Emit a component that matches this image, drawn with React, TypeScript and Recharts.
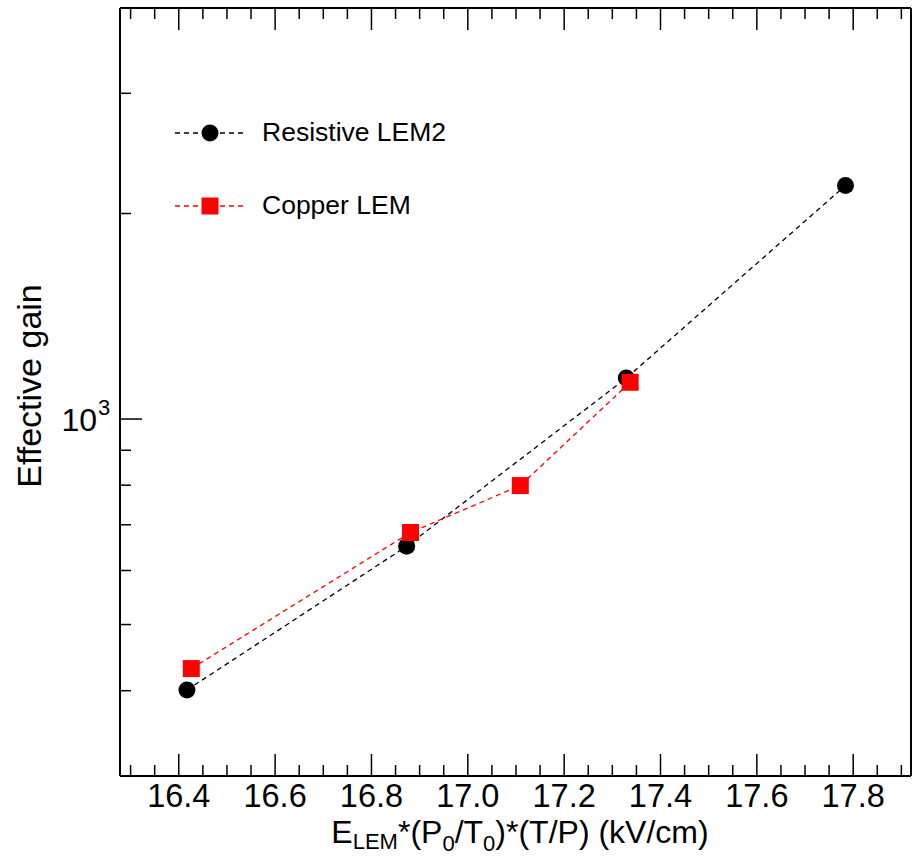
import { ComposedChart, Line, XAxis, YAxis, Legend } from 'recharts';

// Measured points (field in kV/cm, effective gain)
const resistiveField = [16.417, 16.873, 17.329, 17.784];
const resistiveGain = [401, 651, 1148, 2198];
const copperField = [16.426, 16.881, 17.109, 17.337];
const copperGain = [431, 682, 799, 1132];

const xTicks = [
  16.3, 16.35, 16.4, 16.45, 16.5, 16.55, 16.6, 16.65, 16.7, 16.75, 16.8, 16.85, 16.9, 16.95,
  17.0, 17.05, 17.1, 17.15, 17.2, 17.25, 17.3, 17.35, 17.4, 17.45, 17.5, 17.55, 17.6, 17.65,
  17.7, 17.75, 17.8, 17.85, 17.9,
];
const xLabels = ['16.4', '16.6', '16.8', '17.0', '17.2', '17.4', '17.6', '17.8'];
const yTicks = [400, 500, 600, 700, 800, 900, 1000, 2000, 3000];

const resistiveData = resistiveField.map((x, i) => ({ x, y: resistiveGain[i] }));
const copperData = copperField.map((x, i) => ({ x, y: copperGain[i] }));

const FONT = '"Liberation Sans", Arial, Helvetica, sans-serif';
const PLOT_LEFT = 120;
const PLOT_TOP = 8;
const PLOT_BOTTOM = 776;

const XTick = (props: any) => {
  const { x, payload } = props;
  const label = Number(payload.value).toFixed(1);
  const major = xLabels.includes(label) && Math.abs(payload.value * 5 - Math.round(payload.value * 5)) < 1e-6;
  const len = major ? 22 : 11;
  return (
    <g>
      <line x1={x} x2={x} y1={PLOT_BOTTOM} y2={PLOT_BOTTOM - len} stroke="#000" strokeWidth={1.5} />
      <line x1={x} x2={x} y1={PLOT_TOP} y2={PLOT_TOP + len} stroke="#000" strokeWidth={1.5} />
      {major && (
        <text x={x} y={807} textAnchor="middle" fontSize={32.5} fontFamily={FONT} fill="#000">
          {label}
        </text>
      )}
    </g>
  );
};

const YTick = (props: any) => {
  const { y, payload } = props;
  const major = payload.value === 1000;
  const len = major ? 22 : 11;
  return (
    <g>
      <line x1={PLOT_LEFT} x2={PLOT_LEFT + len} y1={y} y2={y} stroke="#000" strokeWidth={1.5} />
      {major && (
        <text x={97} y={y + 12} textAnchor="end" fontSize={32} fontFamily={FONT} fill="#000">
          10
          <tspan x={98} dy={-16} textAnchor="start" fontSize={22}>3</tspan>
        </text>
      )}
    </g>
  );
};

const SquareDot = (props: any) => {
  const { cx, cy, index } = props;
  if (cx == null || cy == null) return null;
  return <rect key={`sq-${index}`} x={cx - 8.5} y={cy - 8.5} width={17} height={17} fill="#ff0000" />;
};

const renderLegend = () => (
  <svg width={340} height={140} style={{ display: 'block' }}>
    <line x1={15} x2={85} y1={33} y2={33} stroke="#000" strokeWidth={1.3} strokeDasharray="5 4" />
    <circle cx={50} cy={33} r={8.5} fill="#000" />
    <text x={102} y={41} fontSize={26.5} fontFamily={FONT} fill="#000">Resistive LEM2</text>
    <line x1={15} x2={85} y1={106} y2={106} stroke="#ff0000" strokeWidth={1.3} strokeDasharray="5 4" />
    <rect x={41.5} y={97.5} width={17} height={17} fill="#ff0000" />
    <text x={102} y={114} fontSize={26.5} fontFamily={FONT} fill="#000">Copper LEM</text>
  </svg>
);

const XTitle = () => (
  <text x={520} y={843} textAnchor="middle" fontSize={32} fontFamily={FONT} fill="#000">
    E<tspan fontSize={22} dy={6}>LEM</tspan>
    <tspan fontSize={32} dy={-6}>*(P</tspan>
    <tspan fontSize={22} dy={8}>0</tspan>
    <tspan fontSize={32} dy={-8}>/T</tspan>
    <tspan fontSize={22} dy={8}>0</tspan>
    <tspan fontSize={32} dy={-8}>)*(T/P) (kV/cm)</tspan>
  </text>
);

const YTitle = () => (
  <text
    x={0}
    y={0}
    transform="translate(41, 386) rotate(-90)"
    textAnchor="middle"
    fontSize={34}
    fontFamily={FONT}
    fill="#000"
  >
    Effective gain
  </text>
);

export default function App() {
  return (
    <div style={{ position: 'absolute', left: 0, top: 0, width: 916, height: 856, background: '#fff' }}>
      <ComposedChart width={916} height={856} margin={{ top: 0, right: 4, bottom: 0, left: 0 }}>
        <XAxis
          xAxisId="top"
          orientation="top"
          type="number"
          dataKey="x"
          domain={[16.278, 17.92]}
          allowDataOverflow
          height={8}
          tick={false}
          tickLine={false}
          axisLine={{ stroke: '#000', strokeWidth: 2 }}
        />
        <XAxis
          xAxisId="main"
          type="number"
          dataKey="x"
          domain={[16.278, 17.92]}
          allowDataOverflow
          ticks={xTicks}
          interval={0}
          height={80}
          tick={<XTick />}
          tickLine={false}
          axisLine={{ stroke: '#000', strokeWidth: 2 }}
          label={<XTitle />}
        />
        <YAxis
          yAxisId="main"
          scale="log"
          type="number"
          dataKey="y"
          domain={[300, 4000]}
          allowDataOverflow
          ticks={yTicks}
          interval={0}
          width={120}
          tick={<YTick />}
          tickLine={false}
          axisLine={{ stroke: '#000', strokeWidth: 2 }}
          label={<YTitle />}
        />
        <YAxis
          yAxisId="right"
          orientation="right"
          scale="log"
          type="number"
          domain={[300, 4000]}
          allowDataOverflow
          width={1}
          tick={false}
          tickLine={false}
          axisLine={{ stroke: '#000', strokeWidth: 2 }}
        />
        <Legend
          layout="horizontal"
          verticalAlign="middle"
          content={renderLegend}
          wrapperStyle={{ position: 'absolute', left: 160, top: 100, width: 340, height: 140 }}
        />
        <Line
          xAxisId="main"
          yAxisId="main"
          data={resistiveData}
          dataKey="y"
          type="linear"
          stroke="#000"
          strokeWidth={1.3}
          strokeDasharray="5 4"
          dot={{ r: 8.5, fill: '#000', stroke: 'none' }}
          activeDot={false}
          isAnimationActive={false}
          name="Resistive LEM2"
        />
        <Line
          xAxisId="main"
          yAxisId="main"
          data={copperData}
          dataKey="y"
          type="linear"
          stroke="#ff0000"
          strokeWidth={1.3}
          strokeDasharray="5 4"
          dot={<SquareDot />}
          activeDot={false}
          isAnimationActive={false}
          name="Copper LEM"
        />
      </ComposedChart>
    </div>
  );
}
